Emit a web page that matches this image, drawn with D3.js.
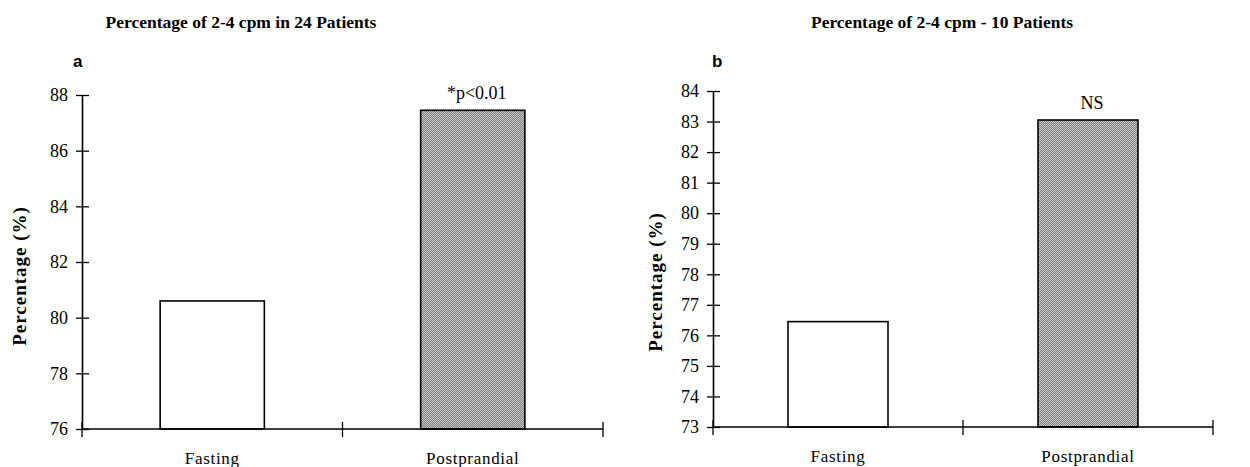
<!DOCTYPE html>
<html>
<head>
<meta charset="utf-8">
<script src="https://cdn.jsdelivr.net/npm/d3@7"></script>
<style>
  body { margin: 0; background: #fff; }
  svg { display: block; }
  text { font-family: "Liberation Serif", "Times New Roman", serif; fill: #000; }
</style>
</head>
<body>
<svg></svg>
<script>
const [svgWidth, svgHeight] = [1250, 467];

const categories = ['Fasting', 'Postprandial'];
const valuesA = [80.6, 87.45];
const valuesB = [76.45, 83.05];
const ticksA = [76, 78, 80, 82, 84, 86, 88];
const ticksB = [73, 74, 75, 76, 77, 78, 79, 80, 81, 82, 83, 84];
const titles = ['Percentage of 2-4 cpm in 24 Patients', 'Percentage of 2-4 cpm - 10 Patients'];
const letters = ['a', 'b'];
const notes = ['*p<0.01', 'NS'];

const svg = d3.select('svg')
  .attr('width', svgWidth)
  .attr('height', svgHeight);

// speckled grey for the postprandial bar
const pat = svg.append('defs').append('pattern')
  .attr('id', 'dither')
  .attr('width', 2)
  .attr('height', 2)
  .attr('patternUnits', 'userSpaceOnUse');
pat.append('rect').attr('width', 2).attr('height', 2).attr('fill', '#cacaca');
pat.append('rect').attr('x', 1).attr('y', 0).attr('width', 1).attr('height', 1).attr('fill', '#7c7c7c');
pat.append('rect').attr('x', 0).attr('y', 1).attr('width', 1).attr('height', 1).attr('fill', '#7c7c7c');

const panels = [
  { values: valuesA, ticks: ticksA, x0: 82, x1: 603, yTop: 95, yBot: 429,
    title: titles[0], titleX: 241, letter: letters[0], letterX: 73,
    note: notes[0], labelX: 26, labelY: 276 },
  { values: valuesB, ticks: ticksB, x0: 713, x1: 1213, yTop: 91, yBot: 427,
    title: titles[1], titleX: 942, letter: letters[1], letterX: 712,
    note: notes[1], labelX: 662, labelY: 282 }
];

const drawPanel = (p) => {
  const g = svg.append('g');
  const x = d3.scaleBand()
    .domain(categories)
    .range([p.x0, p.x1])
    .paddingInner(0.6)
    .paddingOuter(0.3);
  const y = d3.scaleLinear()
    .domain(d3.extent(p.ticks))
    .range([p.yBot, p.yTop]);

  // bars
  g.selectAll('rect.bar')
    .data(p.values)
    .join('rect')
    .attr('class', 'bar')
    .attr('x', (d, i) => x(categories[i]))
    .attr('y', d => y(d))
    .attr('width', x.bandwidth())
    .attr('height', d => y.range()[0] - y(d))
    .attr('fill', (d, i) => i === 0 ? '#fff' : 'url(#dither)')
    .attr('stroke', '#000')
    .attr('stroke-width', 1.6);

  // y axis with crossing ticks
  const yAxis = g.append('g')
    .attr('transform', `translate(${p.x0},0)`)
    .call(d3.axisLeft(y).tickValues(p.ticks).tickSize(6).tickSizeOuter(0).tickPadding(8))
    .attr('font-family', '"Liberation Serif", serif')
    .attr('font-size', 18);
  yAxis.select('.domain').attr('stroke-width', 1.6);
  yAxis.selectAll('.tick line').attr('x2', -6).attr('x1', 7).attr('stroke-width', 1.3);

  // x axis: baseline, boundary ticks, centred labels
  const xAxis = g.append('g')
    .attr('transform', `translate(0,${p.yBot})`);
  xAxis.append('line')
    .attr('x1', p.x0).attr('x2', p.x1)
    .attr('stroke', '#000').attr('stroke-width', 1.6);
  xAxis.selectAll('line.xt')
    .data([0, 1, 2])
    .join('line')
    .attr('class', 'xt')
    .attr('x1', i => p.x0 + i * x.step())
    .attr('x2', i => p.x0 + i * x.step())
    .attr('y1', -7).attr('y2', 8)
    .attr('stroke', '#000').attr('stroke-width', 1.3);
  const labels = g.append('g')
    .attr('transform', `translate(0,${p.yBot})`)
    .call(d3.axisBottom(x).tickSize(0).tickPadding(23))
    .attr('font-family', '"Liberation Serif", serif')
    .attr('font-size', 17);
  labels.select('.domain').remove();
  labels.selectAll('.tick text').style('letter-spacing', '0.7px');

  // title, panel letter, y label, note
  g.append('text')
    .attr('x', p.titleX).attr('y', 28)
    .attr('text-anchor', 'middle')
    .style('font-size', '17.5px').style('font-weight', 'bold')
    .text(p.title);
  g.append('text')
    .attr('x', p.letterX).attr('y', 67)
    .style('font-family', '"Liberation Sans", Arial, sans-serif')
    .style('font-size', '17px').style('font-weight', 'bold')
    .text(p.letter);
  g.append('text')
    .attr('transform', `translate(${p.labelX},${p.labelY}) rotate(-90)`)
    .attr('text-anchor', 'middle')
    .style('font-size', '19px').style('font-weight', 'bold')
    .style('letter-spacing', '1px')
    .text('Percentage (%)');
  g.append('text')
    .attr('x', x(categories[1]) + x.bandwidth() / 2 + 4)
    .attr('y', y(p.values[1]) - 11)
    .attr('text-anchor', 'middle')
    .style('font-size', '18px')
    .text(p.note);
};

panels.forEach(drawPanel);
</script>
</body>
</html>
